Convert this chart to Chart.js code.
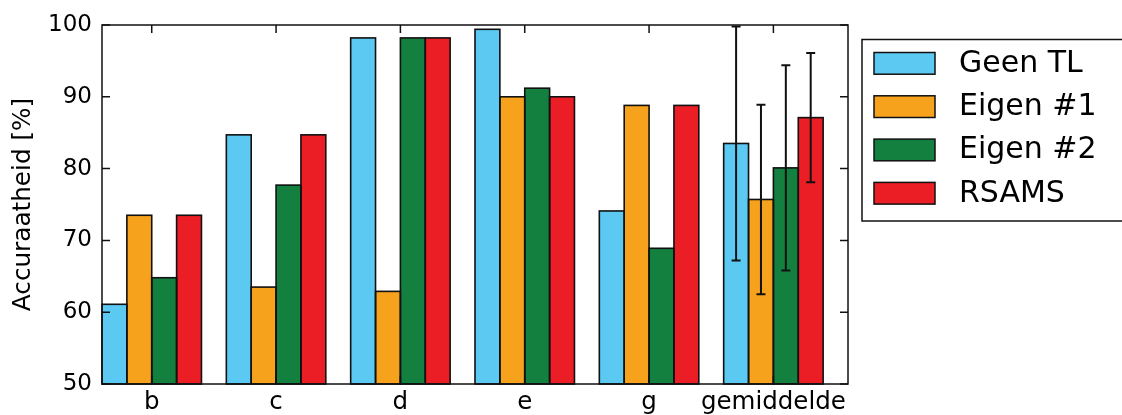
<!DOCTYPE html>
<html>
<head>
<meta charset="utf-8">
<script src="https://cdn.jsdelivr.net/npm/chart.js@4.4.1/dist/chart.umd.min.js"></script>
<style>
  html, body { margin: 0; background: #fff; }
</style>
</head>
<body>
<canvas id="accChart" width="1122" height="415"></canvas>
<script>
"use strict";

const categories = ["b", "c", "d", "e", "g", "gemiddelde"];
const geenTL = [61.1, 84.7, 98.2, 99.4, 74.1, 83.5];
const eigen1 = [73.5, 63.5, 62.9, 90.0, 88.8, 75.7];
const eigen2 = [64.8, 77.7, 98.2, 91.2, 68.9, 80.1];
const rsams = [73.5, 84.7, 98.2, 90.0, 88.8, 87.1];
// spreiding, alleen bij "gemiddelde" (zelfde volgorde als de reeksen)
const errGem = [16.3, 13.2, 14.3, 9.0];
const yTicks = [50, 60, 70, 80, 90, 100];

const FONT = "'DejaVu Sans', sans-serif";
const INK = "#111";
const Y_MIN = 50;
const Y_MAX = 100;

const series = [
  { label: "Geen TL", values: geenTL, color: "#5bc9f1" },
  { label: "Eigen #1", values: eigen1, color: "#f7a21d" },
  { label: "Eigen #2", values: eigen2, color: "#13803f" },
  { label: "RSAMS", values: rsams, color: "#eb1d25" },
];

const toPoints = (values) => values.map((v, i) => ({ x: i, y: v }));

// randen om de staven, gecentreerd op de rand zoals bij matplotlib
const barEdgePlugin = {
  id: "barEdges",
  afterDatasetsDraw(chart) {
    const { ctx } = chart;
    ctx.save();
    ctx.strokeStyle = INK;
    ctx.lineWidth = 1.6;
    chart.data.datasets.forEach((ds, i) => {
      chart.getDatasetMeta(i).data.forEach((bar) => {
        const { x, y, base, width } = bar.getProps(["x", "y", "base", "width"], true);
        ctx.strokeRect(x - width / 2, y, width, base - y);
      });
    });
    ctx.restore();
  },
};

// lijst om het plotgebied + tickjes naar binnen (matplotlib-stijl)
const framePlugin = {
  id: "frame",
  afterDatasetsDraw(chart) {
    const { ctx, chartArea: a, scales } = chart;
    ctx.save();
    ctx.strokeStyle = INK;
    ctx.lineWidth = 1.5;
    ctx.beginPath();
    scales.y.ticks.forEach((t) => {
      const py = scales.y.getPixelForValue(t.value);
      ctx.moveTo(a.left, py);
      ctx.lineTo(a.left + 8, py);
      ctx.moveTo(a.right, py);
      ctx.lineTo(a.right - 8, py);
    });
    scales.x.ticks.forEach((t) => {
      const px = scales.x.getPixelForValue(t.value);
      ctx.moveTo(px, a.top);
      ctx.lineTo(px, a.top + 8);
      ctx.moveTo(px, a.bottom);
      ctx.lineTo(px, a.bottom - 8);
    });
    ctx.stroke();
    ctx.strokeRect(a.left, a.top, a.right - a.left, a.bottom - a.top);
    ctx.restore();
  },
};

// foutbalken bij de laatste groep
const errorBarPlugin = {
  id: "errorBars",
  afterDatasetsDraw(chart) {
    const { ctx, scales } = chart;
    const idx = categories.length - 1;
    ctx.save();
    ctx.strokeStyle = INK;
    ctx.lineWidth = 2;
    chart.data.datasets.forEach((ds, i) => {
      const bar = chart.getDatasetMeta(i).data[idx];
      if (!bar) return;
      const mean = ds.data[idx].y;
      const top = scales.y.getPixelForValue(mean + errGem[i]);
      const bottom = scales.y.getPixelForValue(mean - errGem[i]);
      ctx.beginPath();
      ctx.moveTo(bar.x, top);
      ctx.lineTo(bar.x, bottom);
      ctx.moveTo(bar.x - 4.5, top);
      ctx.lineTo(bar.x + 4.5, top);
      ctx.moveTo(bar.x - 4.5, bottom);
      ctx.lineTo(bar.x + 4.5, bottom);
      ctx.stroke();
    });
    ctx.restore();
  },
};

// legenda rechts naast de grafiek, met kader
const legendPlugin = {
  id: "boxLegend",
  afterDraw(chart) {
    const { ctx, chartArea: a } = chart;
    const left = a.right + 14;
    const top = a.top + 14.5;
    ctx.save();
    ctx.strokeStyle = INK;
    ctx.lineWidth = 1.5;
    ctx.strokeRect(left, top, 270, 181.5);
    ctx.font = "30px " + FONT;
    ctx.textBaseline = "middle";
    chart.data.datasets.forEach((ds, i) => {
      const sy = top + 13 + i * 43.3;
      ctx.fillStyle = ds.backgroundColor;
      ctx.fillRect(left + 12, sy, 61, 21.7);
      ctx.strokeRect(left + 12, sy, 61, 21.7);
      ctx.fillStyle = "#000";
      ctx.fillText(ds.label, left + 97, sy + 11.5);
    });
    ctx.restore();
  },
};

new Chart(document.getElementById("accChart"), {
  type: "bar",
  data: {
    datasets: series.map((s) => ({
      label: s.label,
      data: toPoints(s.values),
      backgroundColor: s.color,
      borderWidth: 0,
      base: Y_MIN,
      categoryPercentage: 0.8,
      barPercentage: 1.0,
    })),
  },
  options: {
    responsive: false,
    devicePixelRatio: 1,
    animation: false,
    layout: { padding: { top: 25, right: 274, left: 0, bottom: 0 } },
    plugins: { legend: { display: false }, tooltip: { enabled: false } },
    scales: {
      x: {
        type: "linear",
        offset: false,
        min: -0.4,
        max: categories.length - 0.4,
        grid: { display: false, drawTicks: false },
        border: { display: false },
        afterBuildTicks: (axis) => {
          axis.ticks = categories.map((c, i) => ({ value: i }));
        },
        ticks: {
          autoSkip: false,
          maxRotation: 0,
          padding: 4,
          color: "#000",
          font: { family: FONT, size: 24.5 },
          callback: (v) => categories[v],
        },
        afterFit: (axis) => { axis.height = 31; },
      },
      y: {
        min: Y_MIN,
        max: Y_MAX,
        grid: { display: false, drawTicks: false },
        border: { display: false },
        afterBuildTicks: (axis) => {
          axis.ticks = yTicks.map((v) => ({ value: v }));
        },
        ticks: {
          padding: 10,
          color: "#000",
          font: { family: FONT, size: 23 },
        },
        title: {
          display: true,
          text: "Accuraatheid [%]",
          color: "#000",
          font: { family: FONT, size: 24.7 },
          padding: { top: 9, bottom: 0 },
        },
        afterFit: (axis) => { axis.width = 102; },
      },
    },
  },
  plugins: [barEdgePlugin, framePlugin, errorBarPlugin, legendPlugin],
});
</script>
</body>
</html>
